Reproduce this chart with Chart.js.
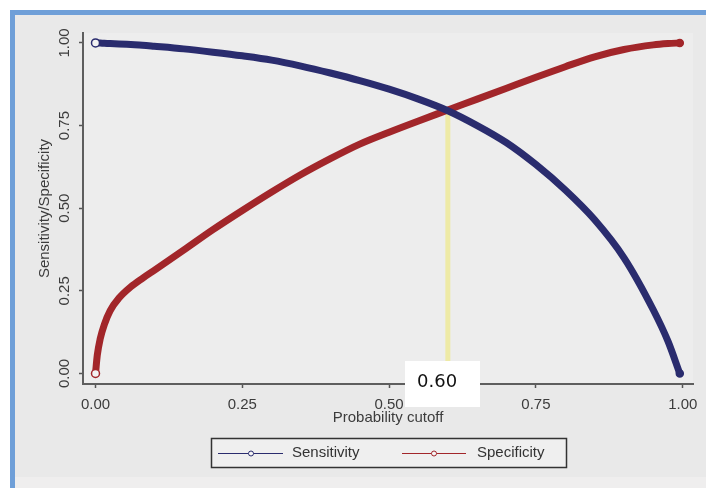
<!DOCTYPE html>
<html><head><meta charset="utf-8">
<script src="https://cdn.jsdelivr.net/npm/chart.js@4"></script>
<style>html,body{margin:0;padding:0;background:#fff;overflow:hidden}#wrap{width:706px;height:488px;position:relative}canvas{display:block}</style>
</head><body><div id="wrap"><canvas id="c" width="706" height="488"></canvas></div>
<script>
// ---- data ----
const cutoffs     = [0, 0.003, 0.008, 0.015, 0.025, 0.04, 0.06, 0.08, 0.10, 0.15, 0.20, 0.25, 0.30, 0.35, 0.40, 0.45, 0.50, 0.55, 0.60, 0.65, 0.70, 0.75, 0.80, 0.85, 0.90, 0.95, 0.975, 0.995];
const sensitivity = [1.000, 1.000, 0.9995, 0.999, 0.998, 0.997, 0.995, 0.993, 0.990, 0.982, 0.972, 0.961, 0.948, 0.930, 0.909, 0.886, 0.860, 0.830, 0.795, 0.750, 0.698, 0.632, 0.555, 0.465, 0.350, 0.192, 0.097, 0.000];
const specificity = [0.000, 0.055, 0.105, 0.148, 0.190, 0.228, 0.262, 0.288, 0.312, 0.373, 0.435, 0.493, 0.549, 0.602, 0.650, 0.694, 0.730, 0.764, 0.797, 0.830, 0.863, 0.896, 0.928, 0.958, 0.980, 0.994, 0.998, 1.000];
const seriesNames = ['Sensitivity', 'Specificity'];
const xTicks = [0, 0.25, 0.5, 0.75, 1];
const yTicks = [0, 0.25, 0.5, 0.75, 1];
const xTitle = 'Probability cutoff';
const yTitle = 'Sensitivity/Specificity';
const optimalCutoff = 0.60;
const optimalValue = 0.796;

// ---- styling ----
const colors = ['#2a2c6e', '#a2262a'];
const FONT = '"Liberation Sans", Arial, sans-serif';
const TXT = '#3c3c3c';

const toPts = ys => cutoffs.map((x, i) => ({x: x, y: ys[i]}));
const lastIdx = cutoffs.length - 1;

const frame = {
  id: 'frame',
  beforeDraw(chart) {
    const c = chart.ctx, a = chart.chartArea;
    c.save();
    c.fillStyle = '#ffffff'; c.fillRect(0, 0, 706, 488);
    c.fillStyle = '#e9e9e9'; c.fillRect(15, 15, 691, 473);
    c.fillStyle = '#efeeee'; c.fillRect(15, 477, 691, 11);
    c.fillStyle = '#6f9fd8'; c.fillRect(10, 10, 696, 5); c.fillRect(10, 10, 5, 478);
    c.fillStyle = '#ededed'; c.fillRect(a.left, a.top, a.right - a.left, a.bottom - a.top);
    c.restore();
  },
  beforeDatasetsDraw(chart) {
    const c = chart.ctx, xs = chart.scales.x, ys = chart.scales.y;
    const px = xs.getPixelForValue(optimalCutoff);
    c.save();
    c.strokeStyle = '#eeeaa6'; c.lineWidth = 5;
    c.beginPath(); c.moveTo(px, ys.getPixelForValue(optimalValue)); c.lineTo(px, chart.chartArea.bottom); c.stroke();
    c.restore();
  },
  afterDraw(chart) {
    const c = chart.ctx;
    c.save();
    // cutoff label
    c.fillStyle = '#ffffff'; c.fillRect(405, 361, 75, 46);
    c.fillStyle = '#111111'; c.font = '18px "DejaVu Sans", sans-serif';
    c.textBaseline = 'middle'; c.textAlign = 'left';
    c.fillText(optimalCutoff.toFixed(2), 417, 382);
    // legend
    c.fillStyle = '#efefef'; c.fillRect(211, 438, 356, 30);
    c.strokeStyle = '#333333'; c.lineWidth = 1.5; c.strokeRect(211.5, 438.5, 355, 29);
    const items = [{x0: 218, x1: 283, m: 251, t: 292}, {x0: 402, x1: 466, m: 434, t: 477}];
    chart.data.datasets.forEach((ds, i) => {
      const it = items[i], y = 453;
      c.strokeStyle = ds.borderColor; c.lineWidth = 1;
      c.beginPath(); c.moveTo(it.x0, y + 0.5); c.lineTo(it.x1, y + 0.5); c.stroke();
      c.fillStyle = '#f4f4f4'; c.beginPath(); c.arc(it.m, y + 0.5, 2.5, 0, Math.PI * 2); c.fill(); c.stroke();
      c.fillStyle = '#333333'; c.font = '15px ' + FONT; c.textBaseline = 'middle';
      c.fillText(ds.label, it.t, y);
    });
    c.restore();
  }
};

const mkDs = (label, ys, col) => ({
  label: label,
  data: toPts(ys),
  showLine: true,
  borderColor: col,
  backgroundColor: col,
  borderWidth: 7,
  borderCapStyle: 'round',
  borderJoinStyle: 'round',
  cubicInterpolationMode: 'monotone',
  pointRadius: ctx => ctx.dataIndex === 0 ? 4 : (ctx.dataIndex === lastIdx ? 3.5 : 0),
  pointBackgroundColor: ctx => ctx.dataIndex === 0 ? '#f2f2f2' : col,
  pointBorderColor: col,
  pointBorderWidth: 1.5
});

new Chart(document.getElementById('c'), {
  type: 'scatter',
  data: { datasets: [mkDs(seriesNames[0], sensitivity, colors[0]), mkDs(seriesNames[1], specificity, colors[1])] },
  options: {
    responsive: false, animation: false, devicePixelRatio: 1,
    layout: { padding: { left: 0, right: 13, top: 33, bottom: 61 } },
    plugins: { legend: { display: false }, tooltip: { enabled: false }, title: { display: false } },
    scales: {
      x: {
        type: 'linear', min: -0.0213, max: 1.0175,
        afterBuildTicks: s => { s.ticks = xTicks.map(v => ({value: v})); },
        afterFit: s => { s.height = 43; },
        ticks: { callback: v => Number(v).toFixed(2), color: TXT, font: { family: FONT, size: 15 }, padding: 8, maxRotation: 0, autoSkip: false },
        grid: { drawOnChartArea: false, drawTicks: true, tickLength: 4, color: '#555555', tickWidth: 1.5 },
        border: { display: true, color: '#5e5e5e', width: 2 },
        title: { display: true, text: xTitle, color: TXT, font: { family: FONT, size: 15 }, padding: { top: 0, bottom: 0 } }
      },
      y: {
        type: 'linear', min: -0.0318, max: 1.030,
        afterBuildTicks: s => { s.ticks = yTicks.map(v => ({value: v})); },
        afterFit: s => { s.width = 83; },
        ticks: { callback: v => Number(v).toFixed(2), color: TXT, font: { family: FONT, size: 15 }, padding: 0, minRotation: 90, maxRotation: 90, crossAlign: 'center', autoSkip: false },
        grid: { drawOnChartArea: false, drawTicks: true, tickLength: 4, color: '#555555', tickWidth: 1.5 },
        border: { display: true, color: '#5e5e5e', width: 2 },
        title: { display: true, text: yTitle, color: TXT, font: { family: FONT, size: 15 }, padding: { top: 36, bottom: 0 } }
      }
    }
  },
  plugins: [frame]
});
</script></body></html>
